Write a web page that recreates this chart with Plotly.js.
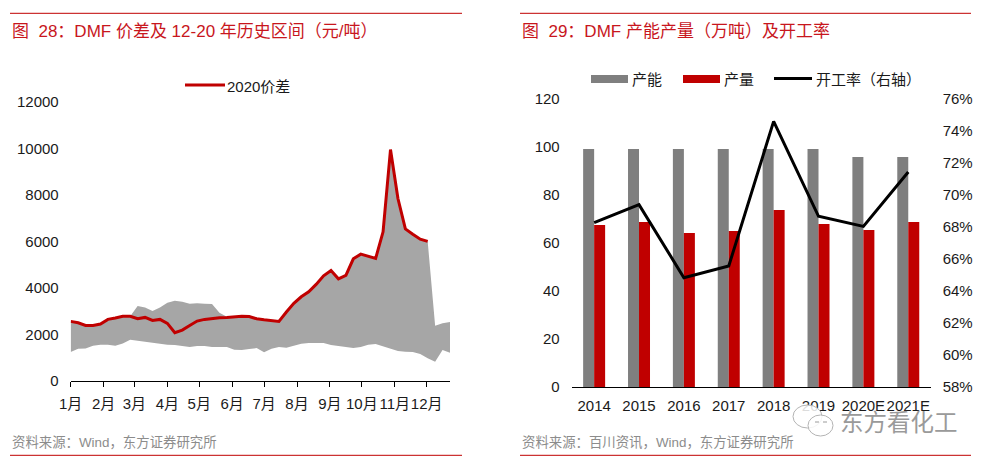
<!DOCTYPE html>
<html><head><meta charset="utf-8">
<script src="https://cdn.plot.ly/plotly-3.0.1.min.js"></script>
<style>html,body{margin:0;padding:0;background:#fff}#c{width:991px;height:465px}</style>
</head><body><div id="c"></div>
<script>
const weekDates = ["2020-01-01","2020-01-08","2020-01-15","2020-01-22","2020-01-29","2020-02-05","2020-02-12","2020-02-19","2020-02-26","2020-03-04","2020-03-11","2020-03-18","2020-03-25","2020-04-01","2020-04-08","2020-04-15","2020-04-22","2020-04-29","2020-05-06","2020-05-13","2020-05-20","2020-05-27","2020-06-03","2020-06-10","2020-06-17","2020-06-24","2020-07-01","2020-07-08","2020-07-15","2020-07-22","2020-07-29","2020-08-05","2020-08-12","2020-08-19","2020-08-26","2020-09-02","2020-09-09","2020-09-16","2020-09-23","2020-09-30","2020-10-07","2020-10-14","2020-10-21","2020-10-28","2020-11-04","2020-11-11","2020-11-18","2020-11-25","2020-12-02","2020-12-09","2020-12-16","2020-12-23"];
const spread2020 = [2554,2495,2380,2380,2439,2640,2697,2770,2770,2667,2725,2597,2640,2469,2065,2180,2380,2568,2640,2683,2712,2725,2755,2770,2760,2667,2624,2590,2554,2955,3329,3613,3829,4146,4516,4748,4387,4533,5247,5449,5363,5264,6409,9953,7845,6538,6310,6095,5996];
const rangeHigh = [2554,2495,2380,2380,2439,2640,2697,2770,2770,3213,3157,2998,3157,3355,3441,3398,3312,3340,3312,3298,2925,2755,2755,2770,2760,2667,2624,2590,2554,2955,3329,3613,3829,4146,4516,4748,4387,4533,5247,5449,5363,5264,6409,9953,7845,6538,6310,6095,5996,2366,2469,2525];
const rangeLow = [1234,1377,1391,1506,1548,1548,1506,1606,1763,1720,1677,1606,1577,1548,1534,1491,1448,1491,1491,1448,1448,1448,1333,1319,1363,1406,1220,1377,1449,1419,1506,1591,1621,1621,1621,1535,1492,1449,1406,1449,1548,1578,1478,1363,1277,1247,1234,1148,963,817,1320,1204];
const monthTicks = ["2020-01-01","2020-02-01","2020-03-01","2020-04-01","2020-05-01","2020-06-01","2020-07-01","2020-08-01","2020-09-01","2020-10-01","2020-11-01","2020-12-01"];
const monthLabels = ["1月","2月","3月","4月","5月","6月","7月","8月","9月","10月","11月","12月"];
const spreadTicks = [0,2000,4000,6000,8000,10000,12000];
const years = ["2014","2015","2016","2017","2018","2019","2020E","2021E"];
const capacity = [99.2,99.2,99.2,99.2,99.2,99.2,95.8,95.8];
const output = [67.5,68.75,64.2,65,73.75,67.9,65.4,68.75];
const utilisation = [68.27,69.4,64.83,65.56,74.6,68.67,68.04,71.44];

const W=991,H=465, FONT='"Liberation Sans","Noto Sans CJK SC",sans-serif';
const px=x=>x/W, py=y=>1-y/H;
const RED='#c00000', TXT='#1a1a1a';
const tf={family:FONT,size:15,color:TXT};
const line=(x0,x1,y,c,w)=>({type:'line',xref:'paper',yref:'paper',x0:px(x0),x1:px(x1),y0:py(y),y1:py(y),line:{color:c,width:w}});
const rect=(x0,x1,y0,y1,c)=>({type:'rect',xref:'paper',yref:'paper',x0:px(x0),x1:px(x1),y0:py(y0),y1:py(y1),fillcolor:c,line:{width:0}});
const oval=(x0,x1,y0,y1)=>({type:'circle',xref:'paper',yref:'paper',x0:px(x0),x1:px(x1),y0:py(y1),y1:py(y0),fillcolor:'rgba(255,255,255,0.85)',line:{color:'#b4b4b4',width:1}});
const label=(t,x,y,size,color)=>({text:t,xref:'paper',yref:'paper',x:px(x),y:py(y),xanchor:'left',yanchor:'middle',showarrow:false,borderpad:0,borderwidth:0,font:{family:FONT,size:size,color:color}});

const traces=[
 {x:weekDates,y:rangeLow,type:'scatter',mode:'lines',line:{width:0,color:'#a6a6a6'},showlegend:false,xaxis:'x',yaxis:'y',hoverinfo:'skip'},
 {x:weekDates,y:rangeHigh,type:'scatter',mode:'lines',line:{width:0,color:'#a6a6a6'},fill:'tonexty',fillcolor:'#a6a6a6',showlegend:false,xaxis:'x',yaxis:'y',name:'历史区间'},
 {x:weekDates.slice(0,spread2020.length),y:spread2020,type:'scatter',mode:'lines',line:{width:3,color:RED},showlegend:false,xaxis:'x',yaxis:'y',name:'2020价差'},
 {x:years,y:capacity,type:'bar',marker:{color:'#7f7f7f'},name:'产能',xaxis:'x2',yaxis:'y2',showlegend:false},
 {x:years,y:output,type:'bar',marker:{color:RED},name:'产量',xaxis:'x2',yaxis:'y2',showlegend:false},
 {x:years,y:utilisation,type:'scatter',mode:'lines',line:{width:3,color:'#000'},name:'开工率（右轴）',xaxis:'x2',yaxis:'y3',showlegend:false}
];
const layout={
 width:W,height:H,margin:{l:0,r:0,t:0,b:0},paper_bgcolor:'#fff',plot_bgcolor:'#fff',showlegend:false,
 barmode:'group',bargap:0.51,bargroupgap:0,font:tf,
 xaxis:{type:'date',domain:[px(70.7),px(450)],range:["2020-01-01","2020-12-23"],tickmode:'array',tickvals:monthTicks,ticktext:monthLabels,ticks:'outside',ticklen:5,tickwidth:1,tickcolor:'#000',showline:true,linecolor:'#000',linewidth:1,showgrid:false,zeroline:false,tickfont:tf,tickangle:0,ticklabelstandoff:4,anchor:'y'},
 yaxis:{domain:[py(380.7),py(102)],range:[0,12000],tickmode:'array',tickvals:spreadTicks,ticktext:spreadTicks.map(String),showgrid:false,zeroline:false,showline:false,ticks:'',tickfont:tf,ticklabelstandoff:11,anchor:'x'},
 xaxis2:{type:'category',domain:[px(571.7),px(930.7)],showline:true,linecolor:'#000',linewidth:1,ticks:'',showgrid:false,zeroline:false,tickfont:tf,tickangle:0,ticklabelstandoff:5,anchor:'y2'},
 yaxis2:{domain:[py(387),py(99)],range:[0,120],tickvals:[0,20,40,60,80,100,120],showgrid:false,zeroline:false,showline:false,ticks:'',tickfont:tf,ticklabelstandoff:11,anchor:'x2'},
 yaxis3:{domain:[py(387),py(99)],overlaying:'y2',side:'right',range:[58,76],tickvals:[58,60,62,64,66,68,70,72,74,76],ticktext:['58%','60%','62%','64%','66%','68%','70%','72%','74%','76%'],showgrid:false,zeroline:false,showline:false,ticks:'',tickfont:tf,ticklabelstandoff:11,anchor:'x2'},
 shapes:[
  line(10,462,13.3,RED,1),line(520,971,13.3,RED,1),line(10,462,455.3,RED,1),line(520,971,455.3,RED,1),
  line(185,225,85,RED,3),
  rect(591,628,75,83,'#7f7f7f'),rect(683,720,75,83,RED),line(774,812,78.5,'#000',3),
  rect(838,960,411,437,'#fff'),
  oval(793,822,405,428),oval(808,833,415,436),
  line(815,819,422,'#9a9a9a',1),line(823,827,422,'#9a9a9a',1)
 ],
 annotations:[
  label('图&nbsp;&nbsp;28：DMF 价差及 12-20 年历史区间（元/吨）',12,31.5,17,'#c8161d'),
  label('图&nbsp;&nbsp;29：DMF 产能产量（万吨）及开工率',522,31.5,17,'#c8161d'),
  label('2020价差',227,86,15,TXT),
  label('产能',632,79,15,TXT),label('产量',724,79,15,TXT),label('开工率（右轴）',816,79,15,TXT),
  label('资料来源：Wind，东方证券研究所',12,442,13.4,'#8c8c8c'),
  label('资料来源：百川资讯，Wind，东方证券研究所',522,442,13.4,'#8c8c8c'),
  label('东方看化工',840,423,23.5,'#9a9a9a')
 ]
};
Plotly.newPlot('c',traces,layout,{displayModeBar:false,staticPlot:true});
</script></body></html>
